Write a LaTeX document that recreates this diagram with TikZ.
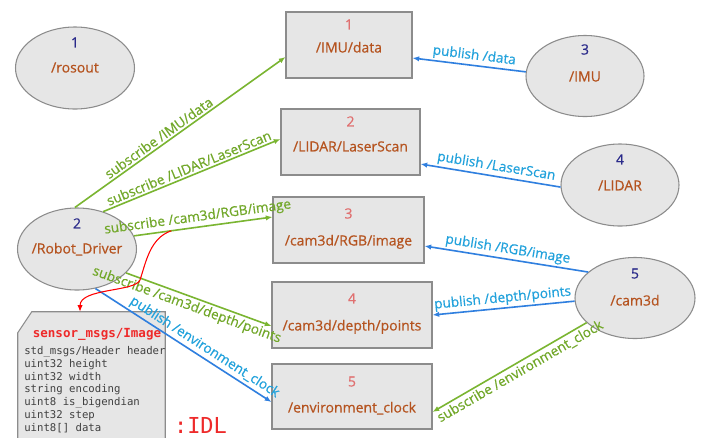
\documentclass[tikz,border=0pt]{standalone}
\usepackage{fontspec}
\setmainfont{Open Sans}[FakeBold=0.6]
\newfontfamily\monof{DejaVu Sans Mono}
\usetikzlibrary{shapes.geometric,arrows.meta,calc}
\definecolor{fillc}{HTML}{E6E6E6}
\definecolor{bordc}{HTML}{8C8C8C}
\definecolor{gline}{HTML}{7AB531}
\definecolor{gtext}{HTML}{72A82A}
\definecolor{bline}{HTML}{2F7FDF}
\definecolor{btext}{HTML}{22A2DC}
\definecolor{navy}{HTML}{2A2A8A}
\definecolor{pinkn}{HTML}{E07070}
\definecolor{brown}{HTML}{B5531F}
\definecolor{idlred}{HTML}{EE2A2A}
\definecolor{monog}{HTML}{404040}
\tikzset{
  x=0.75pt, y=-0.75pt,
  ell/.style={ellipse, draw=bordc, fill=fillc, line width=0.8pt, inner sep=0pt,
    minimum width=89.25pt, minimum height=61.5pt},
  box/.style={rectangle, draw=bordc, fill=fillc, line width=0.8pt, inner sep=0pt},
  numE/.style={text=navy, font=\fontsize{10.5}{12}\selectfont, inner sep=0pt, text height=1.5ex, text depth=0.25ex},
  numR/.style={text=pinkn, font=\fontsize{10.5}{12}\selectfont, inner sep=0pt, text height=1.5ex, text depth=0.25ex},
  nm/.style={text=brown, font=\fontsize{10.5}{12}\selectfont, inner sep=0pt, text height=1.5ex, text depth=0.25ex},
  gedge/.style={draw=gline, line width=1.2pt, -{Latex[length=5pt,width=4pt]}},
  gedgeR/.style={draw=gline, line width=1.2pt, {Latex[length=5pt,width=4pt]}-},
  bedge/.style={draw=bline, line width=1.2pt, -{Latex[length=5pt,width=4pt]}},
  bedgeR/.style={draw=bline, line width=1.2pt, {Latex[length=5pt,width=4pt]}-},
  glab/.style={text=gtext, sloped, font=\fontsize{10.2}{12}\selectfont, inner sep=1.5pt},
  blab/.style={text=btext, sloped, font=\fontsize{10.2}{12}\selectfont, inner sep=1.5pt},
  mono/.style={text=monog, font=\monof\fontsize{8}{9.6}\selectfont, inner sep=0pt, anchor=base west},
}
\begin{document}
\begin{tikzpicture}
\clip (0,0) rectangle (704,437);
\fill[white] (0,0) rectangle (704,437);

% ellipses
\node[ell] (ros) at (75,68) {};
\node[numE] (ros-n) at (75,43) {1};
\node[nm] (ros-l) at (75,68) {/rosout};

\node[ell] (rd) at (77,249) {};
\node[numE] (rd-n) at (77,224) {2};
\node[nm] (rd-l) at (77,249) {/Robot\_Driver};

\node[ell, minimum width=88.5pt, minimum height=60.75pt] (imu) at (585,76) {};
\node[numE] (imu-n) at (585,50) {3};
\node[nm] (imu-l) at (585,77) {/IMU};

\node[ell, minimum width=88.5pt] (lidar) at (620,185) {};
\node[numE] (lidar-n) at (620,160) {4};
\node[nm] (lidar-l) at (620,186) {/LIDAR};

\node[ell, minimum width=90pt, minimum height=60.75pt] (cam) at (635,298) {};
\node[numE] (cam-n) at (635,274) {5};
\node[nm] (cam-l) at (635,301) {/cam3d};

% topic boxes
\node[box, minimum width=94.5pt, minimum height=49.5pt] (r1) at (349,45) {};
\node[numR] (r1-n) at (349,25) {1};
\node[nm] (r1-l) at (349,48) {/IMU/data};

\node[box, minimum width=104.25pt, minimum height=49.5pt] (r2) at (350.5,142) {};
\node[numR] (r2-n) at (350.5,122) {2};
\node[nm] (r2-l) at (350.5,147) {/LIDAR/LaserScan};

\node[box, minimum width=113.25pt, minimum height=49.5pt] (r3) at (348.5,230) {};
\node[numR] (r3-n) at (348.5,214) {3};
\node[nm] (r3-l) at (348.5,241) {/cam3d/RGB/image};

\node[box, minimum width=120pt, minimum height=49.5pt] (r4) at (352,315) {};
\node[numR] (r4-n) at (352,299) {4};
\node[nm] (r4-l) at (352,326) {/cam3d/depth/points};

\node[box, minimum width=120pt, minimum height=48.75pt] (r5) at (352,396.5) {};
\node[numR] (r5-n) at (352,382) {5};
\node[nm] (r5-l) at (352,408) {/environment\_clock};

% IDL box
\node[minimum width=110.25pt, minimum height=99.75pt, inner sep=0pt] (idl) at (91.5,378.5) {};
\draw[draw=bordc, fill=fillc, line width=0.8pt]
  ([xshift=10.5pt]idl.north west) -- (idl.north east) -- (idl.south east)
  -- (idl.south west) -- ([yshift=-15.75pt]idl.north west) -- cycle;
\node[text=idlred, font=\monof\bfseries\fontsize{9.4}{11}\selectfont, inner sep=0pt] (idl-t) at (97,334) {sensor\_msgs/Image};
\node[mono] (m1) at (24,354.5) {std\_msgs/Header header};
\node[mono] (m2) at (24,367) {uint32 height};
\node[mono] (m3) at (24,380) {uint32 width};
\node[mono] (m4) at (24,392.5) {string encoding};
\node[mono] (m5) at (24,405.5) {uint8 is\_bigendian};
\node[mono] (m6) at (24,418) {uint32 step};
\node[mono] (m7) at (24,431) {uint8[] data};
\node[text=idlred, font=\monof\fontsize{16.5}{18}\selectfont, inner sep=0pt] (idl-lbl) at (200.5,425) {:IDL};

% subscriptions / publications from Robot_Driver
\draw[gedge] (rd.93) -- node[glab, above, pos=0.42] {subscribe /IMU/data} ([yshift=-9pt]r1.west);
\draw[gedge] (rd.55) -- node[glab, above, pos=0.5] {subscribe /LIDAR/LaserScan} ([yshift=2.25pt]r2.west);
\draw[gedge] (rd.13) -- coordinate[pos=0.27] (rc) node[glab, above, pos=0.47] {subscribe /cam3d/RGB/image} ([yshift=9.75pt]r3.west);
\draw[gedge] (rd.-26) -- node[glab, below, pos=0.44] {subscribe /cam3d/depth/points} ([yshift=-8.25pt]r4.west);
\draw[bedge] (rd.-65) -- node[blab, above, pos=0.59] {publish /environment\_clock} ([yshift=-4.125pt]r5.west);

% publishers on the right
\draw[bedgeR] ([yshift=-9.75pt]r1.east) -- node[blab, above, pos=0.535] {publish /data} (imu.176);
\draw[bedgeR] ([yshift=-16.5pt]r2.east) -- node[blab, above, pos=0.53] {publish /LaserScan} (lidar.182);
\draw[bedgeR] ([yshift=-12pt]r3.east) -- node[blab, above, pos=0.5] {publish /RGB/image} (cam.151);
\draw[bedgeR] (r4.east) -- node[blab, above, pos=0.5] {publish /depth/points} (cam.183);
\draw[gedgeR] ([yshift=-11.6pt]r5.east) -- node[glab, below, pos=0.54] {subscribe /environment\_clock} (cam.207);

% red link to IDL
\draw[draw=red, line width=0.8pt, -{Latex[length=5pt,width=4pt]}]
  (rc) .. controls (150,238) and (146,262) .. (140,280)
  .. controls (135,292) and (80,288) .. ([xshift=-8.6pt]idl.north);
\end{tikzpicture}
\end{document}
